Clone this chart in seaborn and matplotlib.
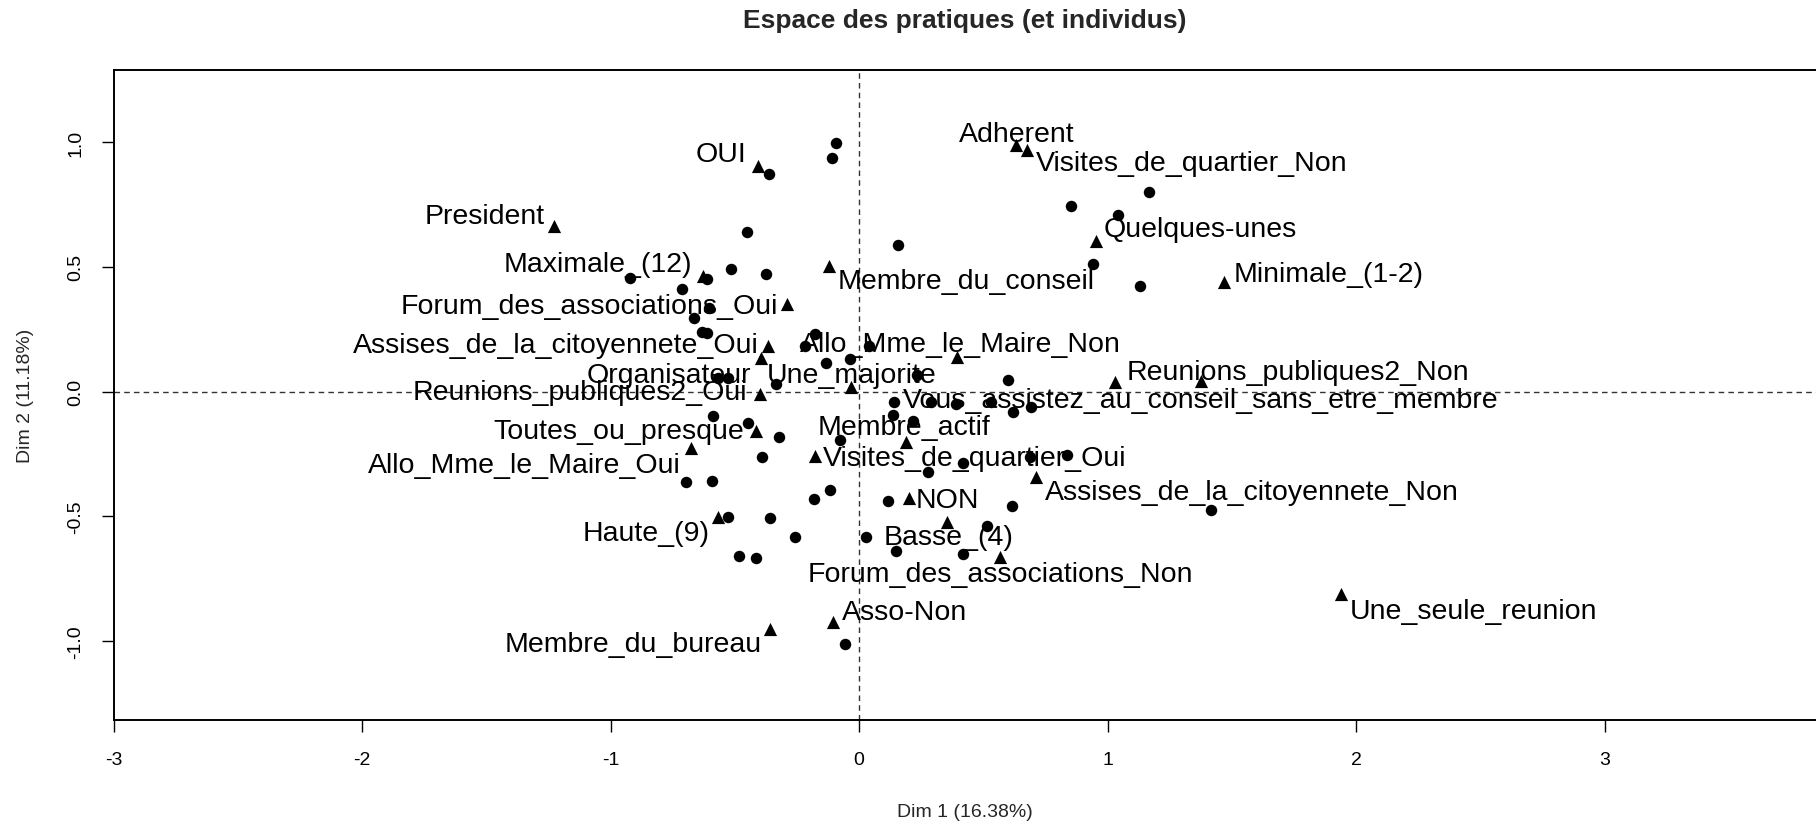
import matplotlib
matplotlib.use("Agg")
import pandas as pd
import matplotlib.pyplot as plt
import seaborn as sns

# individuals (circles)
ind_x = [-0.094, -0.107, -0.363, -0.451, 0.157, -0.923, -0.613, -0.514, -0.376, -0.711,
         -0.604, -0.666, -0.630, -0.612, -0.179, -0.219, -0.134, -0.038, 0.039, -0.333,
         -0.568, -0.528, 0.234, 0.600, 0.140, 0.137, 0.217, 0.291, 0.392, 0.533,
         0.620, 0.694, -0.588, -0.447, -0.320, -0.078, -0.389, -0.695, -0.591, -0.183,
         -0.118, 0.118, -0.528, -0.360, -0.259, 0.027, 0.150, -0.481, -0.413, -0.058,
         0.277, 0.418, 0.687, 0.837, 0.617, 1.418, 0.515, 0.418, 1.167, 0.855,
         1.042, 0.942, 1.130]
ind_y = [0.996, 0.935, 0.872, 0.638, 0.589, 0.455, 0.451, 0.491, 0.471, 0.411,
         0.334, 0.294, 0.240, 0.236, 0.231, 0.184, 0.115, 0.131, 0.182, 0.030,
         0.053, 0.053, 0.065, 0.046, -0.043, -0.094, -0.117, -0.043, -0.050, -0.043,
         -0.081, -0.060, -0.097, -0.126, -0.183, -0.193, -0.263, -0.364, -0.357, -0.430,
         -0.393, -0.437, -0.501, -0.507, -0.584, -0.584, -0.638, -0.658, -0.667, -1.012,
         -0.321, -0.286, -0.263, -0.254, -0.457, -0.475, -0.540, -0.651, 0.799, 0.745,
         0.708, 0.511, 0.424]

# categories (triangles)
cat_names = ["President", "OUI", "Adherent", "Visites_de_quartier_Non", "Quelques-unes",
             "Minimale_(1-2)", "Maximale_(12)", "Membre_du_conseil", "Forum_des_associations_Oui",
             "Assises_de_la_citoyennete_Oui", "Allo_Mme_le_Maire_Non", "Organisateur",
             "Une_majorite", "Reunions_publiques2_Oui", "Reunions_publiques2_Non",
             "Vous_assistez_au_conseil_sans_etre_membre", "Toutes_ou_presque", "Membre_actif",
             "Allo_Mme_le_Maire_Oui", "Visites_de_quartier_Oui", "Assises_de_la_citoyennete_Non",
             "NON", "Haute_(9)", "Basse_(4)", "Forum_des_associations_Non", "Une_seule_reunion",
             "Asso-Non", "Membre_du_bureau"]
cat_x = [-1.228, -0.407, 0.633, 0.674, 0.953, 1.468, -0.627, -0.121, -0.290, -0.367,
         0.396, -0.393, -0.031, -0.400, 1.031, 1.378, -0.413, 0.190, -0.675, -0.179,
         0.714, 0.201, -0.568, 0.355, 0.566, 1.938, -0.105, -0.360]
cat_y = [0.665, 0.905, 0.988, 0.970, 0.605, 0.438, 0.465, 0.505, 0.351, 0.182,
         0.137, 0.133, 0.017, -0.010, 0.037, 0.044, -0.157, -0.203, -0.226, -0.257,
         -0.343, -0.428, -0.504, -0.524, -0.664, -0.811, -0.925, -0.951]

# label placement: offset in pixels (right, down) and alignment
lab_dx = [-9, -11, 0, 9, 8, 10, -11, 9, -9, -9, 3, -10, 0, -12, 11, -1, -12, -2,
          -11, 8, 8, 7, -8, 1, 1, 9, 9, -8]
lab_dy = [-10, -12, -11, 13, -12, -8, -12, 15, 2, -1, -13, 17, -12, -2, -10, 19, 0, -15,
          17, 2, 15, 2, 16, 15, 17, 17, -10, 15]
lab_ha = ["right", "right", "center", "left", "left", "left", "right", "left", "right",
          "right", "center", "right", "center", "right", "left", "center", "right",
          "center", "right", "left", "left", "left", "right", "center", "center", "left",
          "left", "right"]

sns.set_style("ticks")
plt.rcParams['font.family'] = ['Liberation Sans', 'DejaVu Sans']
plt.rcParams['axes.unicode_minus'] = False

W, H = 1816, 828
fig = plt.figure(figsize=(W / 100, H / 100), dpi=100)
ax = fig.add_axes([113.5 / W, 1 - 720.7 / H, 1 - 113.5 / W, (720.7 - 71) / H])

ind = pd.DataFrame({"x": ind_x, "y": ind_y})
cat = pd.DataFrame({"x": cat_x, "y": cat_y, "name": cat_names})

ax.axhline(0, color="#333333", lw=1, ls=(0, (4, 3)), zorder=1)
ax.axvline(0, color="#333333", lw=1, ls=(0, (4, 3)), zorder=1)

sns.scatterplot(data=ind, x="x", y="y", marker="o", s=68, color="black",
                linewidth=0, ax=ax, zorder=3)
sns.scatterplot(data=cat, x="x", y="y", marker="^", s=90, color="black",
                linewidth=0, ax=ax, zorder=3)

for name, x, y, dx, dy, ha in zip(cat_names, cat_x, cat_y, lab_dx, lab_dy, lab_ha):
    ax.annotate(name, (x, y), xytext=(dx, -dy), textcoords="offset pixels",
                ha=ha, va="center", fontsize=20.5, color="black", zorder=4)

ax.set_xlim(-3.0, 3.851)
ax.set_ylim(-1.315, 1.289)
ax.set_xticks([-3, -2, -1, 0, 1, 2, 3])
ax.set_xticklabels(["-3", "-2", "-1", "0", "1", "2", "3"])
ax.set_yticks([-1.0, -0.5, 0.0, 0.5, 1.0])
ax.set_yticklabels(["-1.0", "-0.5", "0.0", "0.5", "1.0"], rotation=90, va="center")
ax.tick_params(axis="both", direction="out", length=8.6, width=1, color="black",
               labelsize=14, labelcolor="black")
ax.tick_params(axis="x", pad=14)
ax.tick_params(axis="y", pad=12.5)

for side in ["left", "bottom", "top"]:
    ax.spines[side].set_linewidth(1.4)
    ax.spines[side].set_color("black")
ax.spines["right"].set_visible(False)

ax.set_xlabel("Dim 1 (16.38%)", fontsize=14, va="center")
ax.xaxis.set_label_coords(0.5, (720.7 - 813) / (720.7 - 71))
ax.set_ylabel("Dim 2 (11.18%)", fontsize=14, va="center")
ax.yaxis.set_label_coords((25 - 113.5) / (W - 113.5), 0.5)

fig.text(964.8 / W, 1 - 21 / H, "Espace des pratiques (et individus)",
         ha="center", va="center", fontsize=19, fontweight="bold")

fig.savefig("out.png", dpi=100)
